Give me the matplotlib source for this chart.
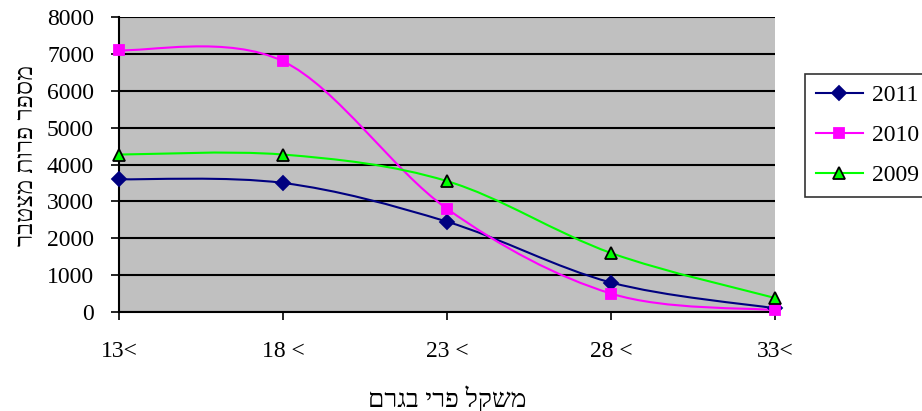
import numpy as np
import matplotlib.pyplot as plt
from matplotlib.path import Path
from matplotlib.patches import PathPatch

plt.rcParams['font.family'] = ['Liberation Serif', 'DejaVu Sans']

# data
weights = [13, 18, 23, 28, 33]
tick_labels = ['13<', '18 <', '23 <', '28 <', '33<']
y2011 = [3600, 3500, 2450, 800, 100]
y2010 = [7100, 6800, 2800, 500, 50]
y2009 = [4270, 4270, 3550, 1600, 380]

x_title = 'משקל פרי בגרם'
y_title = 'מספר פרות מצטבר'


def rtl(s):
    # matplotlib has no bidi support, so flip Hebrew for display
    return s[::-1]


def smooth_path(x, y):
    # Excel-like smoothed line: cubic Bezier through the points
    p = np.column_stack([x, y]).astype(float)
    n = len(p)
    verts = [p[0]]
    codes = [Path.MOVETO]
    for i in range(n - 1):
        p0 = p[max(i - 1, 0)]
        p1 = p[i]
        p2 = p[i + 1]
        p3 = p[min(i + 2, n - 1)]
        c1 = p1 + (p2 - p0) / 6
        c2 = p2 - (p3 - p1) / 6
        verts += [c1, c2, p2]
        codes += [Path.CURVE4] * 3
    return Path(verts, codes)


fig = plt.figure(figsize=(9.22, 4.11), dpi=100)
ax = fig.add_axes([119 / 922, 1 - 312 / 411, 656 / 922, 295 / 411])
ax.set_facecolor('#C0C0C0')

series = [
    ('2011', y2011, '#000080', 'D', '#000080', 7),
    ('2010', y2010, '#FF00FF', 's', '#FF00FF', 7),
    ('2009', y2009, '#00FF00', '^', 'black', 8),
]
for name, vals, col, mk, ec, ms in series:
    ax.add_patch(PathPatch(smooth_path(weights, vals), facecolor='none',
                           edgecolor=col, lw=1.5, zorder=3, clip_on=False))
    ax.plot(weights, vals, linestyle='none', marker=mk, color=col,
            markerfacecolor=col, markeredgecolor=ec, markeredgewidth=1.3,
            markersize=ms, zorder=4, clip_on=False)
    ax.plot([], [], color=col, lw=1.5, marker=mk, markerfacecolor=col,
            markeredgecolor=ec, markeredgewidth=1.3, markersize=ms, label=name)

ax.set_xlim(13, 33)
ax.set_ylim(0, 8000)
ax.set_yticks(np.arange(0, 8001, 1000))
ax.set_xticks(weights)
ax.set_xticklabels(tick_labels)
ax.yaxis.grid(True, color='black', lw=1.5)
ax.set_axisbelow(True)

for s in ['top', 'right']:
    ax.spines[s].set_visible(False)
for s in ['left', 'bottom']:
    ax.spines[s].set_linewidth(1.5)
    ax.spines[s].set_color('black')

ax.tick_params(axis='both', labelsize=17, width=1.2, length=6, direction='out')
ax.tick_params(axis='y', pad=12)
ax.tick_params(axis='x', pad=15)

ax.set_xlabel(rtl(x_title), fontsize=19, labelpad=17)
ax.set_ylabel(rtl(y_title), fontsize=18)
ax.yaxis.set_label_coords(-0.124, 0.53)

leg = fig.legend(loc='upper left', bbox_to_anchor=(805 / 922, 1 - 74 / 411),
                 borderaxespad=0, fontsize=17, frameon=True, fancybox=False,
                 edgecolor='black', handlelength=2.0, labelspacing=0.78,
                 borderpad=0.45, handletextpad=0.38)
leg.get_frame().set_linewidth(1.2)

fig.savefig('out.png', dpi=100)
